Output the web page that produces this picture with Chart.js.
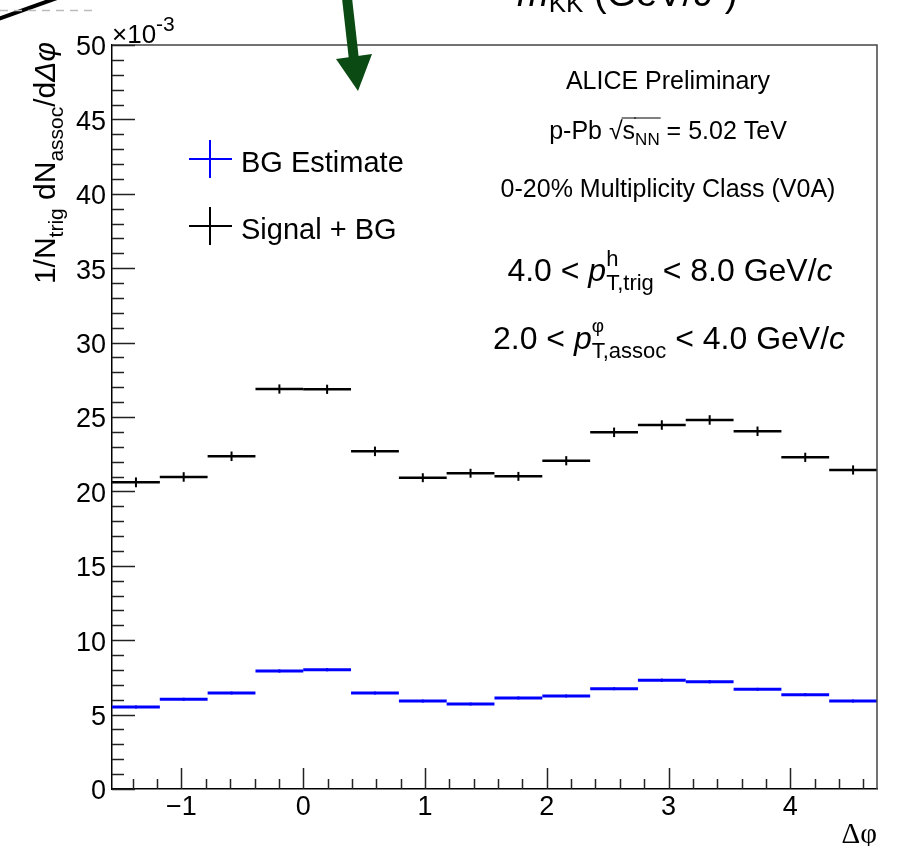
<!DOCTYPE html>
<html>
<head>
<meta charset="utf-8">
<script src="https://cdn.jsdelivr.net/npm/chart.js@4.4.1/dist/chart.umd.min.js"></script>
<style>
  html, body { margin: 0; padding: 0; background: #fff; }
  canvas { display: block; }
</style>
</head>
<body>
<canvas id="dphiChart" width="897" height="846"></canvas>
<script>
// 16 bins of pi/8 between -pi/2 and 3pi/2
const binCenters = [-1.374, -0.982, -0.589, -0.196, 0.196, 0.589, 0.982, 1.374,
                    1.767, 2.160, 2.553, 2.945, 3.338, 3.731, 4.123, 4.516];
const binHalfWidth = 0.19635;

// values in units of 1e-3
const signalBg = [20.61, 20.97, 22.36, 26.88, 26.86, 22.69, 20.92, 21.22,
                  21.01, 22.06, 23.97, 24.46, 24.80, 24.04, 22.29, 21.44];
const signalBgErr = [0.33, 0.32, 0.32, 0.31, 0.31, 0.32, 0.30, 0.30,
                     0.30, 0.31, 0.32, 0.32, 0.32, 0.32, 0.31, 0.31];
const bgEstimate = [5.51, 6.03, 6.45, 7.93, 8.02, 6.45, 5.91, 5.71,
                    6.12, 6.25, 6.74, 7.31, 7.21, 6.70, 6.34, 5.91];
const bgEstimateErr = [0.10, 0.10, 0.10, 0.11, 0.11, 0.10, 0.10, 0.10,
                       0.10, 0.10, 0.10, 0.11, 0.11, 0.10, 0.10, 0.10];

const xTicks = [-1, 0, 1, 2, 3, 4];
const yTicks = [0, 5, 10, 15, 20, 25, 30, 35, 40, 45, 50];

const SANS = '"Liberation Sans", Arial, Helvetica, sans-serif';
const SERIF = '"Liberation Serif", "DejaVu Serif", serif';

function fontOf(p) {
  return (p.it ? 'italic ' : '') + p.s + 'px ' + (p.f || SANS);
}
function partWidth(ctx, p) {
  const list = p.stack || [p];
  return Math.max(...list.map(q => { ctx.font = fontOf(q); return ctx.measureText(q.t).width; }));
}
function richWidth(ctx, parts) {
  return parts.reduce((a, p) => a + partWidth(ctx, p), 0);
}
function drawRich(ctx, parts, x, y, align) {
  const w = richWidth(ctx, parts);
  let cx = align === 'center' ? x - w / 2 : align === 'right' ? x - w : x;
  ctx.textAlign = 'left';
  ctx.textBaseline = 'alphabetic';
  parts.forEach(p => {
    const pw = partWidth(ctx, p);
    (p.stack || [p]).forEach(q => {
      ctx.font = fontOf(q);
      ctx.fillText(q.t, cx, y + (q.dy || 0));
    });
    if (p.over) {
      ctx.save();
      ctx.lineWidth = 1;
      ctx.strokeStyle = ctx.fillStyle;
      ctx.beginPath();
      ctx.moveTo(cx - 1, y - p.over);
      ctx.lineTo(cx + pw + 1, y - p.over);
      ctx.stroke();
      ctx.restore();
    }
    cx += pw;
  });
}

const histPlugin = {
  id: 'histPlugin',
  afterDatasetsDraw(chart) {
    const ctx = chart.ctx;
    const xs = chart.scales.x, ys = chart.scales.y;
    ctx.save();
    chart.data.datasets.forEach(ds => {
      ctx.strokeStyle = ds.borderColor;
      ds.data.forEach((pt, i) => {
        const yp = ys.getPixelForValue(pt.y);
        ctx.lineWidth = ds.histWidth;
        ctx.beginPath();
        ctx.moveTo(xs.getPixelForValue(pt.x - binHalfWidth), yp);
        ctx.lineTo(xs.getPixelForValue(pt.x + binHalfWidth), yp);
        ctx.stroke();
        const e = ds.errors[i];
        const xp = xs.getPixelForValue(pt.x);
        ctx.lineWidth = 2;
        ctx.beginPath();
        ctx.moveTo(xp, ys.getPixelForValue(pt.y - e));
        ctx.lineTo(xp, ys.getPixelForValue(pt.y + e));
        ctx.stroke();
      });
    });
    ctx.restore();
  },
  afterDraw(chart) {
    const ctx = chart.ctx;
    const a = chart.chartArea;
    const xs = chart.scales.x, ys = chart.scales.y;
    ctx.save();

    // frame top / right
    ctx.strokeStyle = '#444';
    ctx.lineWidth = 1.5;
    ctx.beginPath();
    ctx.moveTo(a.left, a.top);
    ctx.lineTo(a.right, a.top);
    ctx.lineTo(a.right, a.bottom);
    ctx.stroke();

    // inward ticks
    ctx.strokeStyle = '#222';
    ctx.lineWidth = 1.5;
    ctx.beginPath();
    for (let v = 0; v <= 50; v++) {
      const yp = Math.round(ys.getPixelForValue(v)) + 0.5;
      const len = v % 5 === 0 ? 23 : 12;
      ctx.moveTo(a.left, yp);
      ctx.lineTo(a.left + len, yp);
    }
    for (let k = -7; k <= 23; k++) {
      const v = k / 5;
      if (v < xs.min || v > xs.max) continue;
      const xp = Math.round(xs.getPixelForValue(v)) + 0.5;
      const len = k % 5 === 0 ? 21 : 10;
      ctx.moveTo(xp, a.bottom);
      ctx.lineTo(xp, a.bottom - len);
    }
    ctx.stroke();

    ctx.fillStyle = '#000';
    // exponent
    drawRich(ctx, [{ t: '\u00d710', s: 26 }, { t: '-3', s: 21, dy: -12 }], a.left, 43, 'left');

    // y title
    const yTitle = [
      { t: '1/N', s: 30 }, { t: 'trig', s: 21, dy: 8 },
      { t: ' dN', s: 30 }, { t: 'assoc', s: 21, dy: 8 },
      { t: '/d', s: 30 }, { t: '\u0394\u03c6', s: 30, it: true }
    ];
    const tw = richWidth(ctx, yTitle);
    ctx.save();
    ctx.translate(55, 42 + tw);
    ctx.rotate(-Math.PI / 2);
    drawRich(ctx, yTitle, 0, 0, 'left');
    ctx.restore();

    // x title
    drawRich(ctx, [{ t: '\u0394\u03c6', s: 29, f: SERIF }], a.right, 843, 'right');

    // legend
    chart.data.datasets.forEach((ds, i) => {
      const cy = 159 + i * 67;
      ctx.strokeStyle = ds.borderColor;
      ctx.lineWidth = 2;
      ctx.beginPath();
      ctx.moveTo(189, cy); ctx.lineTo(232, cy);
      ctx.moveTo(210, cy - 19); ctx.lineTo(210, cy + 19);
      ctx.stroke();
      ctx.fillStyle = '#000';
      drawRich(ctx, [{ t: ds.label, s: 29 }], 241, cy + 13, 'left');
    });

    // annotations
    const cx = 668;
    drawRich(ctx, [{ t: 'ALICE Preliminary', s: 25 }], cx, 89, 'center');
    drawRich(ctx, [
      { t: 'p-Pb ', s: 25 }, { t: '\u221a', s: 25 },
      { t: 's', s: 25, over: 21 }, { t: 'NN', s: 17, dy: 6, over: 21 },
      { t: ' = 5.02 TeV', s: 25 }
    ], cx, 139, 'center');
    drawRich(ctx, [{ t: '0-20% Multiplicity Class (V0A)', s: 25 }], cx, 197, 'center');
    drawRich(ctx, [
      { t: '4.0 < ', s: 32 }, { t: 'p', s: 32, it: true },
      { stack: [{ t: 'h', s: 22, dy: -15 }, { t: 'T,trig', s: 22, dy: 9 }] },
      { t: ' < 8.0 GeV/', s: 32 }, { t: 'c', s: 32, it: true }
    ], 670, 281, 'center');
    drawRich(ctx, [
      { t: '2.0 < ', s: 32 }, { t: 'p', s: 32, it: true },
      { stack: [{ t: '\u03c6', s: 19, dy: -17 }, { t: 'T,assoc', s: 22, dy: 9 }] },
      { t: ' < 4.0 GeV/', s: 32 }, { t: 'c', s: 32, it: true }
    ], 669, 349, 'center');

    // pieces of the neighbouring figure cut at the top
    ctx.strokeStyle = '#000';
    ctx.lineWidth = 4;
    ctx.beginPath();
    ctx.moveTo(-2, 19); ctx.lineTo(57, -2);
    ctx.stroke();
    ctx.strokeStyle = '#bbb';
    ctx.lineWidth = 1.5;
    ctx.setLineDash([8, 6]);
    ctx.beginPath();
    ctx.moveTo(0, 10.5); ctx.lineTo(95, 10.5);
    ctx.stroke();
    ctx.setLineDash([]);

    ctx.fillStyle = '#0b4a12';
    ctx.strokeStyle = '#0b4a12';
    ctx.lineWidth = 10;
    ctx.beginPath();
    ctx.moveTo(347, -2); ctx.lineTo(354, 60);
    ctx.stroke();
    ctx.beginPath();
    ctx.moveTo(336, 59); ctx.lineTo(372, 54); ctx.lineTo(358, 91);
    ctx.closePath();
    ctx.fill();

    ctx.fillStyle = '#000';
    drawRich(ctx, [
      { t: 'm', s: 38, it: true }, { t: 'KK', s: 26, dy: 6 },
      { t: ' (GeV/', s: 38 }, { t: 'c', s: 38, it: true }, { t: '\u00b2)', s: 38 }
    ], 517, 6, 'left');

    ctx.restore();
  }
};

const ctx1 = document.getElementById('dphiChart').getContext('2d');
const dphiChart = new Chart(ctx1, {
  type: 'scatter',
  data: {
    datasets: [{
      label: 'BG Estimate',
      data: binCenters.map((x, i) => ({ x: x, y: bgEstimate[i] })),
      errors: bgEstimateErr,
      borderColor: '#0000ff',
      backgroundColor: '#0000ff',
      histWidth: 3,
      pointRadius: 0
    }, {
      label: 'Signal + BG',
      data: binCenters.map((x, i) => ({ x: x, y: signalBg[i] })),
      errors: signalBgErr,
      borderColor: '#000000',
      backgroundColor: '#000000',
      histWidth: 2.5,
      pointRadius: 0
    }]
  },
  options: {
    responsive: false,
    animation: false,
    devicePixelRatio: 1,
    layout: { padding: { top: 45, right: 20, left: 0, bottom: 0 } },
    plugins: { legend: { display: false }, tooltip: { enabled: false } },
    scales: {
      x: {
        type: 'linear',
        min: -Math.PI / 2,
        max: 1.5 * Math.PI,
        afterBuildTicks: s => { s.ticks = xTicks.map(v => ({ value: v })); },
        afterFit: s => { s.height = 57; },
        grid: { display: false, drawTicks: false },
        border: { display: true, color: '#000', width: 1.5 },
        ticks: {
          color: '#000', padding: 2, maxRotation: 0, autoSkip: false,
          font: { family: SANS, size: 27 },
          callback: v => v < 0 ? '\u2212' + Math.abs(v) : String(v)
        }
      },
      y: {
        type: 'linear',
        min: 0,
        max: 50,
        afterBuildTicks: s => { s.ticks = yTicks.map(v => ({ value: v })); },
        afterFit: s => { s.width = 112; },
        grid: { display: false, drawTicks: false },
        border: { display: true, color: '#000', width: 1.5 },
        ticks: {
          color: '#000', padding: 6, autoSkip: false, labelOffset: 3,
          font: { family: SANS, size: 27 }
        }
      }
    }
  },
  plugins: [histPlugin]
});
</script>
</body>
</html>
